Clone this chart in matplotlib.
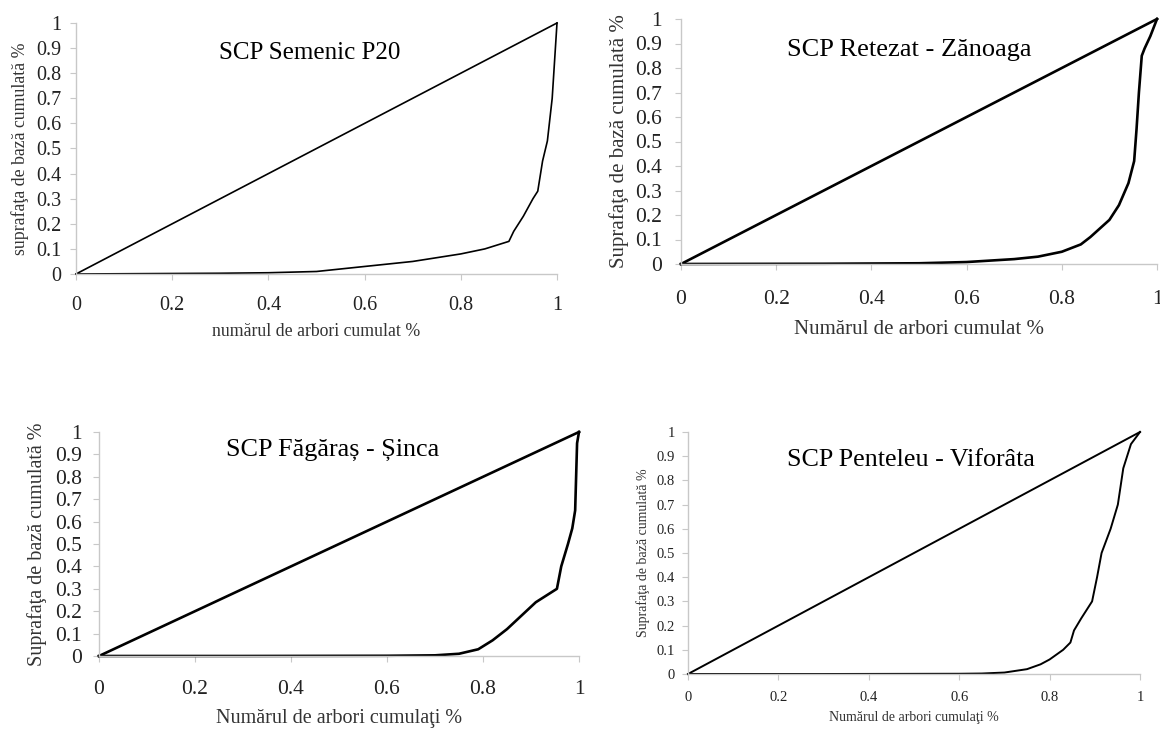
import matplotlib
matplotlib.use("Agg")
import matplotlib.pyplot as plt

plt.rcParams['font.family'] = ['Liberation Serif', 'DejaVu Serif']

# linia de egalitate
egal_x = [0, 1]
egal_y = [0, 1]

ticks = [0, 0.2, 0.4, 0.6, 0.8, 1]
tick_labels = ['0', '0.2', '0.4', '0.6', '0.8', '1']
yticks = [0, 0.1, 0.2, 0.3, 0.4, 0.5, 0.6, 0.7, 0.8, 0.9, 1]
ytick_labels = ['0', '0.1', '0.2', '0.3', '0.4', '0.5', '0.6', '0.7', '0.8', '0.9', '1']

titles = ['SCP Semenic P20', 'SCP Retezat - Zănoaga',
          'SCP Făgăraș - Șinca', 'SCP Penteleu - Viforâta']
xlabels = ['numărul de arbori cumulat %', 'Numărul de arbori cumulat %',
           'Numărul de arbori cumulaţi %', 'Numărul de arbori cumulaţi %']
ylabels = ['suprafaţa de bază cumulată %', 'Suprafaţa de bază cumulată %',
           'Suprafaţa de bază cumulată %', 'Suprafaţa de bază cumulată %']

# curbele Lorenz
semenic_x = [0, 0.1, 0.2, 0.3, 0.4, 0.5, 0.55, 0.6, 0.7, 0.8, 0.85, 0.9, 0.91,
             0.93, 0.95, 0.96, 0.97, 0.98, 0.99, 0.995, 1]
semenic_y = [0, 0.001, 0.002, 0.003, 0.005, 0.01, 0.02, 0.03, 0.05, 0.08, 0.1,
             0.13, 0.17, 0.23, 0.3, 0.33, 0.45, 0.53, 0.7, 0.85, 1]

retezat_x = [0, 0.3, 0.5, 0.6, 0.7, 0.75, 0.8, 0.84, 0.86, 0.9, 0.92, 0.94,
             0.952, 0.957, 0.962, 0.968, 0.974, 0.986, 1]
retezat_y = [0, 0.001, 0.003, 0.008, 0.02, 0.03, 0.05, 0.08, 0.11, 0.18, 0.24,
             0.33, 0.42, 0.55, 0.7, 0.85, 0.88, 0.93, 1]

fagaras_x = [0, 0.3, 0.6, 0.7, 0.75, 0.79, 0.82, 0.85, 0.88, 0.91, 0.954,
             0.963, 0.977, 0.986, 0.992, 0.994, 0.996, 1]
fagaras_y = [0, 0.0, 0.001, 0.003, 0.01, 0.03, 0.07, 0.12, 0.18, 0.24, 0.3,
             0.4, 0.5, 0.57, 0.65, 0.8, 0.95, 1]

penteleu_x = [0, 0.3, 0.6, 0.65, 0.7, 0.75, 0.78, 0.8, 0.83, 0.846, 0.854,
              0.87, 0.894, 0.905, 0.915, 0.935, 0.951, 0.963, 0.98, 1]
penteleu_y = [0, 0.0, 0.001, 0.002, 0.006, 0.02, 0.04, 0.06, 0.1, 0.13, 0.18,
              0.23, 0.3, 0.4, 0.5, 0.6, 0.7, 0.85, 0.95, 1]

curves = [(semenic_x, semenic_y), (retezat_x, retezat_y),
          (fagaras_x, fagaras_y), (penteleu_x, penteleu_y)]

W, H = 1160, 729
# pixel boxes: x0, x1, y_top, y_bottom
boxes = [(76, 557, 23, 274), (681, 1157, 19, 264),
         (99, 579, 432, 656), (688, 1140, 432, 674)]
lw = [1.2, 1.9, 1.9, 1.4]
tick_fs = [14.5, 15.5, 15.5, 10.5]
lab_fs = [12.8, 15, 14.5, 10]
title_fs = [18, 19, 18.8, 18.7]
xpad = [11, 14, 13, 8]
ypad = [6, 9, 8, 5]
xlab_y = [332, 330, 718, 718]
ylab_x = [20, 619, 37, 643]
title_pos = [(310, 53), (909, 50), (333, 450), (911, 460)]

fig = plt.figure(figsize=(W / 100, H / 100), dpi=100)

for i in range(4):
    x0, x1, yt, yb = boxes[i]
    ax = fig.add_axes([x0 / W, 1 - yb / H, (x1 - x0) / W, (yb - yt) / H])
    ax.plot(egal_x, egal_y, color='black', lw=lw[i], clip_on=False)
    cx, cy = curves[i]
    ax.plot(cx, cy, color='black', lw=lw[i], clip_on=False)
    ax.set_xlim(0, 1)
    ax.set_ylim(0, 1)
    ax.set_xticks(ticks, tick_labels)
    ax.set_yticks(yticks, ytick_labels)
    for s in ['top', 'right']:
        ax.spines[s].set_visible(False)
    for s in ['left', 'bottom']:
        ax.spines[s].set_color('#c8c8c8')
        ax.spines[s].set_linewidth(1)
    ax.tick_params(axis='x', length=4.5, color='#c8c8c8', labelsize=tick_fs[i],
                   pad=xpad[i], labelcolor='#222222')
    ax.tick_params(axis='y', length=4.5, color='#c8c8c8', labelsize=tick_fs[i],
                   pad=ypad[i], labelcolor='#222222')
    ax.set_xlabel(xlabels[i], fontsize=lab_fs[i], color='#333333', va='center')
    ax.xaxis.set_label_coords(0.5, (yb - xlab_y[i]) / (yb - yt))
    ax.set_ylabel(ylabels[i], fontsize=lab_fs[i], color='#333333', va='center')
    ax.yaxis.set_label_coords((ylab_x[i] - x0) / (x1 - x0), 0.5)
    tx, ty = title_pos[i]
    ax.text((tx - x0) / (x1 - x0), (yb - ty) / (yb - yt), titles[i],
            transform=ax.transAxes, ha='center', va='center',
            fontsize=title_fs[i], color='black')
    ax.patch.set_visible(False)

fig.savefig('out.png', dpi=100, facecolor='white')
